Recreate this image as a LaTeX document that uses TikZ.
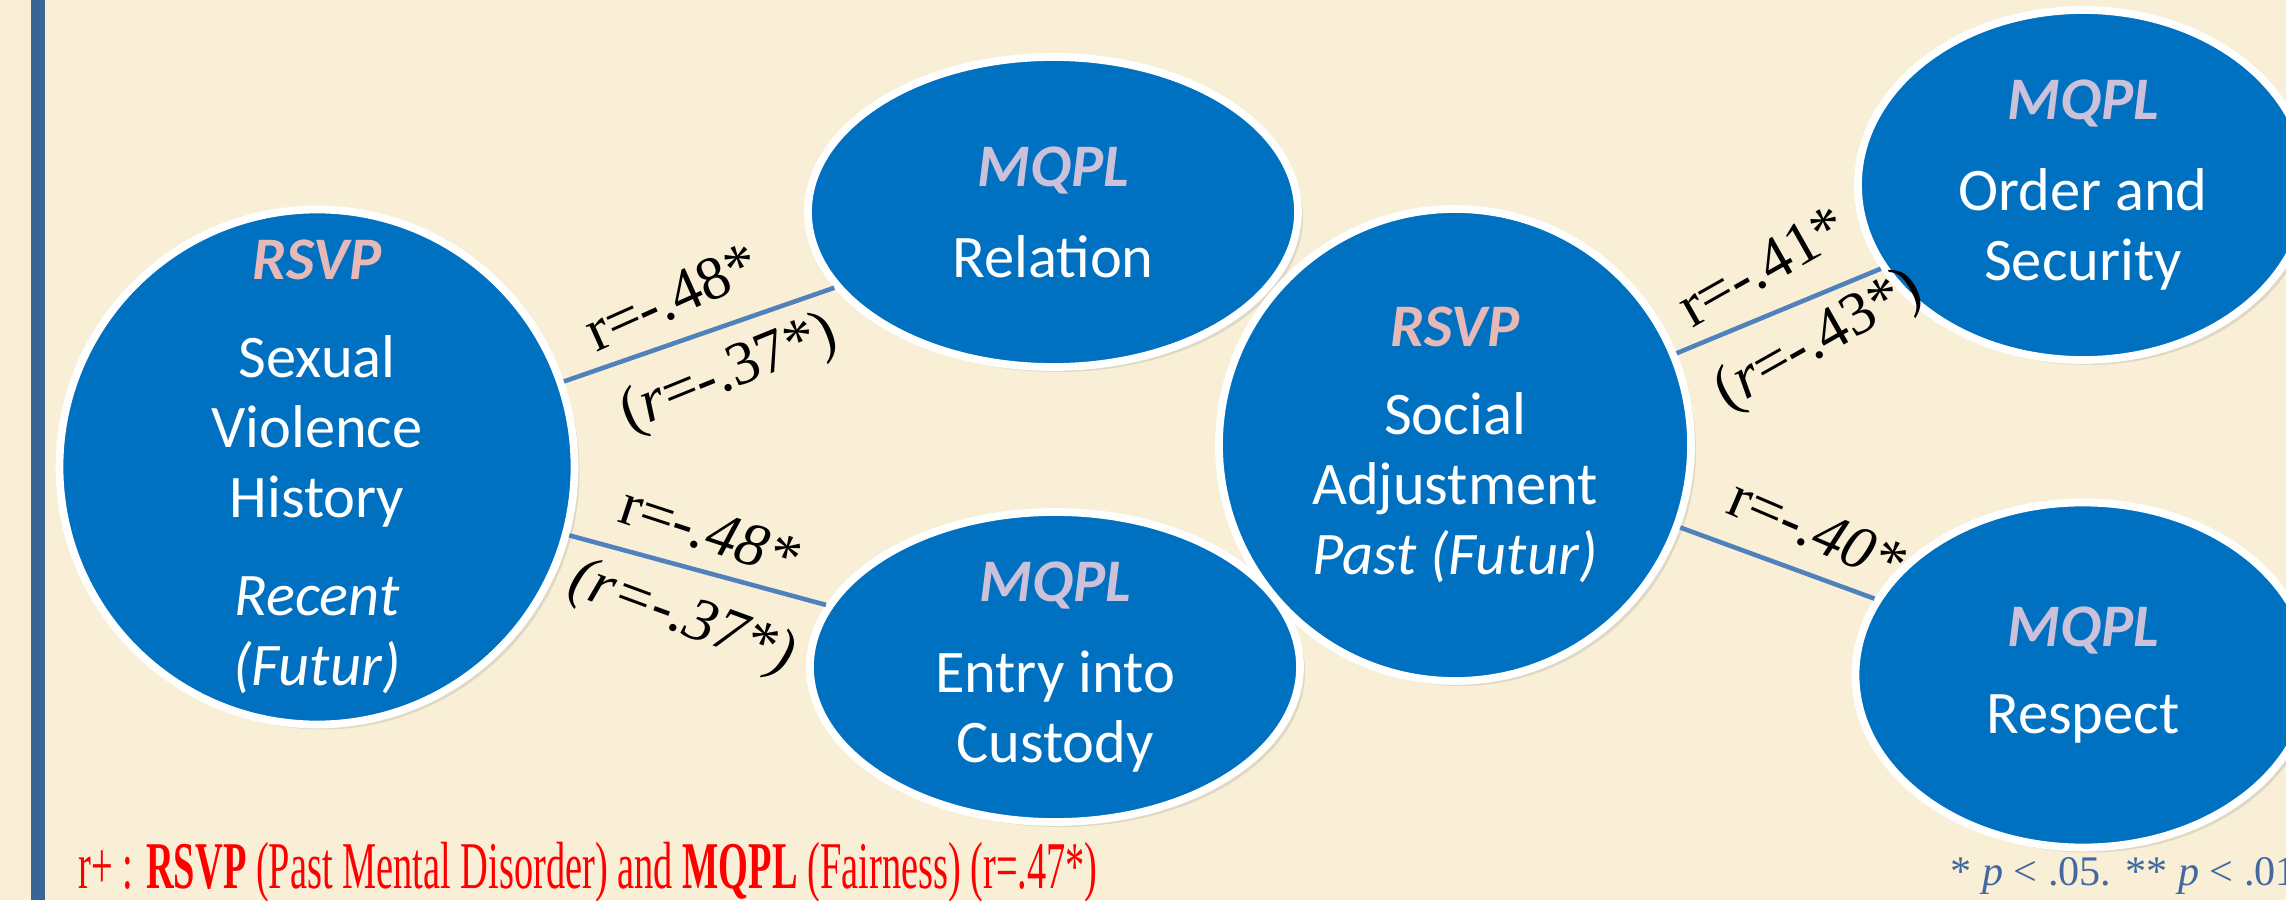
\documentclass[tikz,border=0pt]{standalone}
\usepackage{fontspec}
\setmainfont{Liberation Serif}
\newfontfamily\calibri{Carlito}
\newfontfamily\narrowserif[FakeStretch=0.575]{Liberation Serif}
\usepackage{xcolor}
\usetikzlibrary{shapes.geometric}
\usetikzlibrary{shadows}
\definecolor{paper}{RGB}{249,239,214}
\definecolor{sidebar}{RGB}{56,100,150}
\definecolor{bubblefill}{RGB}{0,112,192}
\definecolor{linkblue}{RGB}{79,129,189}
\definecolor{rsvppink}{RGB}{230,185,184}
\definecolor{mqpllilac}{RGB}{204,193,218}
\definecolor{notecol}{RGB}{65,105,160}
\newcommand{\rsvphead}{\textbf{\textit{\color{rsvppink}RSVP}}}
\newcommand{\mqplhead}{\textbf{\textit{\color{mqpllilac}MQPL}}}

\begin{document}
\begin{tikzpicture}[
				bubble/.style={ellipse, draw=white, line width=2.2pt, fill=bubblefill, inner sep=0pt,
					drop shadow={shadow xshift=0.5mm, shadow yshift=-0.5mm, opacity=0.2}},
				bubbletext/.style={text=white, align=center, font=\calibri\fontsize{17.2}{19.9}\selectfont},
				corr/.style={draw=linkblue, line width=1.3pt},
				rlabel/.style={sloped, inner sep=0pt, font=\fontsize{17.5}{20}\selectfont},
			]
				\useasboundingbox (0,0) rectangle (22.86,9);
				\clip (0,0) rectangle (22.86,9);
				\fill[paper] (0,0) rectangle (22.86,9);
				\fill[sidebar] (0.31,0) rectangle (0.45,9);

				\node[bubble, minimum width=5.15cm, minimum height=5.15cm] (violence) at (3.17,4.33) {};
				\node[bubble, minimum width=4.9cm, minimum height=3.1cm] (relation) at (10.53,6.88) {};
				\node[bubble, minimum width=4.9cm, minimum height=3.1cm] (custody) at (10.55,2.33) {};
				\node[bubble, minimum width=4.72cm, minimum height=4.72cm] (social) at (14.55,4.55) {};
				\node[bubble, minimum width=4.5cm, minimum height=3.5cm] (order) at (20.83,7.15) {};
				\node[bubble, minimum width=4.55cm, minimum height=3.45cm] (respect) at (20.83,2.25) {};

				\node[bubbletext] at (violence) {\rsvphead\\[8pt] Sexual\\ Violence\\ History\\[8pt] \textit{Recent}\\ \textit{(Futur)}};
				\node[bubbletext] at (relation) {\mqplhead\\[6pt] Relation};
				\node[bubbletext] at (custody) {\mqplhead\\[6pt] Entry into\\ Custody};
				\node[bubbletext] at (social) {\rsvphead\\[5pt] Social\\ Adjustment\\ \textit{Past (Futur)}};
				\node[bubbletext] at (order) {\mqplhead\\[6pt] Order and\\ Security};
				\node[bubbletext] at (respect) {\mqplhead\\[5pt] Respect};

				\draw[corr] (violence) -- node[rlabel, pos=0.46, above=6pt, rotate=5] {r=-.48*} node[rlabel, pos=0.55, below=5pt, rotate=3] {(\textit{r}=-.37*)} (relation);
				\draw[corr] (violence) -- node[rlabel, pos=0.5, above=5pt, rotate=-3] {r=-\textit{.48*}} node[rlabel, pos=0.5, below=6pt, rotate=-5] {\textit{(r=-.37*)}} (custody);
				\draw[corr] (social) -- node[rlabel, pos=0.52, above=7pt, rotate=7] {r=-.41*} node[rlabel, pos=0.6, below=4pt, rotate=7] {(\textit{r}=-.43*)} (order);
				\draw[corr] (social) -- node[rlabel, pos=0.62, above=6pt, rotate=-3] {r=-\textit{.40*}} (respect);

				\node[anchor=base west, inner sep=0pt, text=red, font=\narrowserif\fontsize{19}{22}\selectfont] (fairness) at (0.78,0.12) {r+ : \textbf{RSVP} (Past Mental Disorder) and \textbf{MQPL} (Fairness) (r=.47*)};
				\node[anchor=base west, inner sep=0pt, text=notecol, font=\fontsize{12}{14}\selectfont] (signif) at (19.5,0.15) {* \textit{p} < .05. ** \textit{p} < .01.};
			\end{tikzpicture}
\end{document}
